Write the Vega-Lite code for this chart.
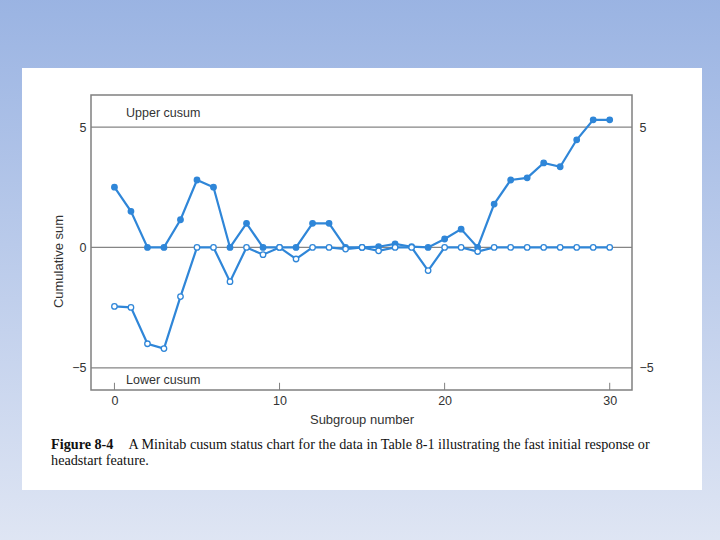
{
  "$schema": "https://vega.github.io/schema/vega-lite/v6.json",
  "width": 541,
  "height": 295,
  "autosize": {"type": "none"},
  "padding": {"left": 91, "top": 95, "right": 88, "bottom": 150},
  "background": "#c0cfee",
  "config": {
    "view": {"stroke": null},
    "text": {"font": "Liberation Sans"},
    "axis": {"zindex": 1}
  },
  "datasets": {
    "cusum": [
      {"subgroup": 0, "series": "Upper", "value": 2.5},
      {"subgroup": 1, "series": "Upper", "value": 1.5},
      {"subgroup": 2, "series": "Upper", "value": 0},
      {"subgroup": 3, "series": "Upper", "value": 0},
      {"subgroup": 4, "series": "Upper", "value": 1.15},
      {"subgroup": 5, "series": "Upper", "value": 2.8},
      {"subgroup": 6, "series": "Upper", "value": 2.5},
      {"subgroup": 7, "series": "Upper", "value": 0},
      {"subgroup": 8, "series": "Upper", "value": 1.0},
      {"subgroup": 9, "series": "Upper", "value": 0},
      {"subgroup": 10, "series": "Upper", "value": 0},
      {"subgroup": 11, "series": "Upper", "value": 0},
      {"subgroup": 12, "series": "Upper", "value": 1.0},
      {"subgroup": 13, "series": "Upper", "value": 1.0},
      {"subgroup": 14, "series": "Upper", "value": 0},
      {"subgroup": 15, "series": "Upper", "value": 0},
      {"subgroup": 16, "series": "Upper", "value": 0.03},
      {"subgroup": 17, "series": "Upper", "value": 0.15},
      {"subgroup": 18, "series": "Upper", "value": 0.03},
      {"subgroup": 19, "series": "Upper", "value": 0},
      {"subgroup": 20, "series": "Upper", "value": 0.35},
      {"subgroup": 21, "series": "Upper", "value": 0.76},
      {"subgroup": 22, "series": "Upper", "value": 0},
      {"subgroup": 23, "series": "Upper", "value": 1.8},
      {"subgroup": 24, "series": "Upper", "value": 2.8},
      {"subgroup": 25, "series": "Upper", "value": 2.89},
      {"subgroup": 26, "series": "Upper", "value": 3.51},
      {"subgroup": 27, "series": "Upper", "value": 3.35},
      {"subgroup": 28, "series": "Upper", "value": 4.47},
      {"subgroup": 29, "series": "Upper", "value": 5.3},
      {"subgroup": 30, "series": "Upper", "value": 5.3},
      {"subgroup": 0, "series": "Lower", "value": -2.45},
      {"subgroup": 1, "series": "Lower", "value": -2.49},
      {"subgroup": 2, "series": "Lower", "value": -4.0},
      {"subgroup": 3, "series": "Lower", "value": -4.2},
      {"subgroup": 4, "series": "Lower", "value": -2.04},
      {"subgroup": 5, "series": "Lower", "value": 0},
      {"subgroup": 6, "series": "Lower", "value": 0},
      {"subgroup": 7, "series": "Lower", "value": -1.42},
      {"subgroup": 8, "series": "Lower", "value": 0},
      {"subgroup": 9, "series": "Lower", "value": -0.3},
      {"subgroup": 10, "series": "Lower", "value": 0},
      {"subgroup": 11, "series": "Lower", "value": -0.48},
      {"subgroup": 12, "series": "Lower", "value": 0},
      {"subgroup": 13, "series": "Lower", "value": 0},
      {"subgroup": 14, "series": "Lower", "value": -0.07},
      {"subgroup": 15, "series": "Lower", "value": 0},
      {"subgroup": 16, "series": "Lower", "value": -0.14},
      {"subgroup": 17, "series": "Lower", "value": 0},
      {"subgroup": 18, "series": "Lower", "value": 0},
      {"subgroup": 19, "series": "Lower", "value": -0.96},
      {"subgroup": 20, "series": "Lower", "value": 0},
      {"subgroup": 21, "series": "Lower", "value": 0},
      {"subgroup": 22, "series": "Lower", "value": -0.17},
      {"subgroup": 23, "series": "Lower", "value": 0},
      {"subgroup": 24, "series": "Lower", "value": 0},
      {"subgroup": 25, "series": "Lower", "value": 0},
      {"subgroup": 26, "series": "Lower", "value": 0},
      {"subgroup": 27, "series": "Lower", "value": 0},
      {"subgroup": 28, "series": "Lower", "value": 0},
      {"subgroup": 29, "series": "Lower", "value": 0},
      {"subgroup": 30, "series": "Lower", "value": 0}
    ],
    "grid": [{"level": 5}, {"level": 0}, {"level": -5}],
    "xticks": [{"tick": 0}, {"tick": 10}, {"tick": 20}, {"tick": 30}],
    "one": [{}]
  },
  "layer": [
    {
      "data": {"name": "one"},
      "mark": {"type": "rect", "fill": {"gradient": "linear", "x1": 0, "y1": 0, "x2": 0, "y2": 1, "stops": [{"offset": 0, "color": "#98b2e2"}, {"offset": 1, "color": "#e1e7f4"}]}},
      "encoding": {
        "x": {"datum": -8, "type": "quantitative", "scale": {"domain": [-1.42, 31.35], "nice": false, "zero": false}, "axis": null},
        "x2": {"datum": 38},
        "y": {"datum": 11, "type": "quantitative", "scale": {"domain": [-5.92, 6.33], "nice": false, "zero": false}, "axis": null},
        "y2": {"datum": -13}
      }
    },
    {
      "data": {"name": "one"},
      "mark": {"type": "rect", "fill": "#ffffff"},
      "encoding": {
        "x": {"datum": -5.6, "type": "quantitative", "scale": {"domain": [-1.42, 31.35], "nice": false, "zero": false}, "axis": null},
        "x2": {"datum": 35.59},
        "y": {"datum": 7.45, "type": "quantitative", "scale": {"domain": [-5.92, 6.33], "nice": false, "zero": false}, "axis": null},
        "y2": {"datum": -10.07}
      }
    },
    {
      "data": {"name": "grid"},
      "mark": {"type": "rule", "color": "#858585", "strokeWidth": 1.3},
      "encoding": {
        "y": {"field": "level", "type": "quantitative", "scale": {"domain": [-5.92, 6.33], "nice": false, "zero": false},
          "axis": {"orient": "right", "values": [-5, 5], "domain": false, "ticks": false, "grid": false, "labelPadding": 7, "labelFont": "Liberation Sans", "labelFontSize": 12.5, "labelColor": "#333333", "title": null, "zindex": 1}}
      }
    },
    {
      "data": {"name": "xticks"},
      "mark": {"type": "rule", "color": "#808080", "strokeWidth": 1},
      "encoding": {
        "x": {"field": "tick", "type": "quantitative", "scale": {"domain": [-1.42, 31.35], "nice": false, "zero": false},
          "axis": {"orient": "bottom", "values": [0, 10, 20, 30], "domain": false, "grid": false, "ticks": false, "labelPadding": 4, "labelFont": "Liberation Sans", "labelFontSize": 12.5, "labelColor": "#333333", "title": "Subgroup number", "titleFont": "Liberation Sans", "titleFontSize": 13, "titleFontWeight": "normal", "titleColor": "#333333", "titleY": 29, "titleBaseline": "middle", "zindex": 1}},
        "y": {"datum": -5.92, "type": "quantitative", "scale": {"domain": [-5.92, 6.33], "nice": false, "zero": false}, "axis": null},
        "y2": {"datum": -5.62}
      }
    },
    {
      "data": {"name": "one"},
      "mark": {"type": "rect", "fill": null, "fillOpacity": 0, "stroke": "#808080", "strokeWidth": 1.5},
      "encoding": {
        "x": {"datum": -1.42, "type": "quantitative", "scale": {"domain": [-1.42, 31.35], "nice": false, "zero": false}, "axis": null},
        "x2": {"datum": 31.35},
        "y": {"datum": 6.33, "type": "quantitative", "scale": {"domain": [-5.92, 6.33], "nice": false, "zero": false}, "axis": null},
        "y2": {"datum": -5.92}
      }
    },
    {
      "data": {"name": "cusum"},
      "mark": {"type": "line", "color": "#2f86d8", "strokeWidth": 2.2},
      "encoding": {
        "x": {"field": "subgroup", "type": "quantitative", "scale": {"domain": [-1.42, 31.35], "nice": false, "zero": false}, "axis": null},
        "y": {"field": "value", "type": "quantitative", "scale": {"domain": [-5.92, 6.33], "nice": false, "zero": false},
          "axis": {"orient": "left", "values": [-5, 0, 5], "domain": false, "ticks": false, "grid": false, "labelPadding": 5, "labelFont": "Liberation Sans", "labelFontSize": 12.5, "labelColor": "#333333", "title": "Cumulative sum", "titleFont": "Liberation Sans", "titleFontSize": 13, "titleFontWeight": "normal", "titleColor": "#333333", "titleX": -33, "titleY": 166, "titleAlign": "center", "titleBaseline": "middle", "titleAngle": -90, "zindex": 1}},
        "detail": {"field": "series"}
      }
    },
    {
      "data": {"name": "cusum"},
      "mark": {"type": "point", "shape": "circle", "size": 30, "stroke": "#2f86d8", "strokeWidth": 1.3, "opacity": 1, "filled": false},
      "encoding": {
        "x": {"field": "subgroup", "type": "quantitative", "scale": {"domain": [-1.42, 31.35], "nice": false, "zero": false}, "axis": null},
        "y": {"field": "value", "type": "quantitative", "scale": {"domain": [-5.92, 6.33], "nice": false, "zero": false}, "axis": null},
        "fill": {"field": "series", "type": "nominal", "scale": {"domain": ["Upper", "Lower"], "range": ["#2f86d8", "#ffffff"]}, "legend": null}
      }
    },
    {
      "data": {"name": "one"},
      "mark": {"type": "text", "text": "Upper cusum", "align": "left", "baseline": "middle", "font": "Liberation Sans", "fontSize": 12.5, "color": "#333333"},
      "encoding": {
        "x": {"datum": 0.7, "type": "quantitative", "scale": {"domain": [-1.42, 31.35], "nice": false, "zero": false}, "axis": null},
        "y": {"datum": 5.59, "type": "quantitative", "scale": {"domain": [-5.92, 6.33], "nice": false, "zero": false}, "axis": null}
      }
    },
    {
      "data": {"name": "one"},
      "mark": {"type": "text", "text": "Lower cusum", "align": "left", "baseline": "middle", "font": "Liberation Sans", "fontSize": 12.5, "color": "#333333"},
      "encoding": {
        "x": {"datum": 0.7, "type": "quantitative", "scale": {"domain": [-1.42, 31.35], "nice": false, "zero": false}, "axis": null},
        "y": {"datum": -5.51, "type": "quantitative", "scale": {"domain": [-5.92, 6.33], "nice": false, "zero": false}, "axis": null}
      }
    },
    {
      "data": {"name": "one"},
      "mark": {"type": "text", "text": "Figure 8-4", "align": "left", "baseline": "middle", "font": "Liberation Serif", "fontWeight": "bold", "fontSize": 14.2, "color": "#111111"},
      "encoding": {
        "x": {"datum": -3.84, "type": "quantitative", "scale": {"domain": [-1.42, 31.35], "nice": false, "zero": false}, "axis": null},
        "y": {"datum": -8.21, "type": "quantitative", "scale": {"domain": [-5.92, 6.33], "nice": false, "zero": false}, "axis": null}
      }
    },
    {
      "data": {"name": "one"},
      "mark": {"type": "text", "text": "A Minitab cusum status chart for the data in Table 8-1 illustrating the fast initial response or", "align": "left", "baseline": "middle", "font": "Liberation Serif", "fontSize": 14.2, "color": "#111111"},
      "encoding": {
        "x": {"datum": 0.85, "type": "quantitative", "scale": {"domain": [-1.42, 31.35], "nice": false, "zero": false}, "axis": null},
        "y": {"datum": -8.21, "type": "quantitative", "scale": {"domain": [-5.92, 6.33], "nice": false, "zero": false}, "axis": null}
      }
    },
    {
      "data": {"name": "one"},
      "mark": {"type": "text", "text": "headstart feature.", "align": "left", "baseline": "middle", "font": "Liberation Serif", "fontSize": 14.2, "color": "#111111"},
      "encoding": {
        "x": {"datum": -3.84, "type": "quantitative", "scale": {"domain": [-1.42, 31.35], "nice": false, "zero": false}, "axis": null},
        "y": {"datum": -8.87, "type": "quantitative", "scale": {"domain": [-5.92, 6.33], "nice": false, "zero": false}, "axis": null}
      }
    }
  ],
  "resolve": {"axis": {"x": "independent", "y": "independent"}}
}
